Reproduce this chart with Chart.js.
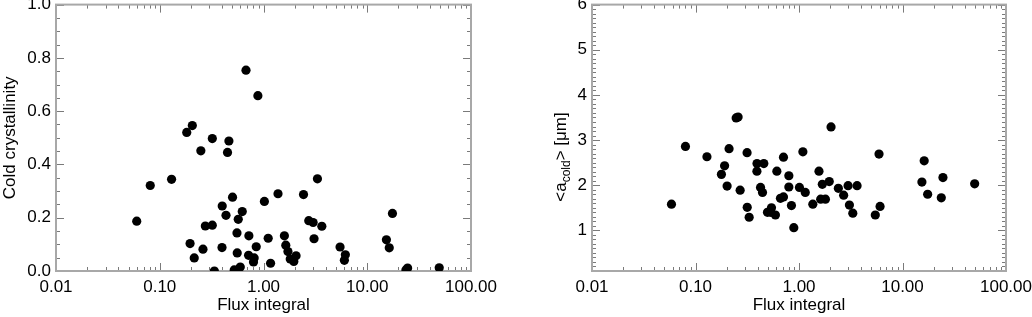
<!DOCTYPE html>
<html lang="en">
<head>
    <script src="https://cdn.jsdelivr.net/npm/chart.js@4.4.0/dist/chart.umd.min.js"></script>
    <meta charset="UTF-8">
    <title>Flux integral</title>
    <style>
        body { margin: 0; background: #fff; }
        #wrap { position: relative; width: 1032px; height: 317px; }
        canvas { position: absolute; top: 0; }
    </style>
</head>
<body>
<div id="wrap">
    <canvas id="chartCryst" width="516" height="317" style="left:0"></canvas>
    <canvas id="chartSize" width="516" height="317" style="left:516px"></canvas>
</div>

<script>
    // left panel : cold crystallinity vs flux integral
    let fluxCryst = [0.060, 0.081, 0.130, 0.182, 0.206, 0.249, 0.321, 0.464, 0.450, 0.678, 0.883,
        0.400, 0.503, 0.624, 0.435, 0.571, 0.275, 0.321, 0.196, 0.261, 0.215, 0.398, 0.555, 0.723,
        0.558, 0.851, 0.718, 0.813, 0.801, 0.597, 0.522, 0.336,
        1.02, 1.38, 2.43, 3.31, 2.73, 3.01, 3.65,
        1.11, 1.59, 3.07, 1.64, 1.72, 1.81, 2.06, 1.96, 1.17,
        5.47, 6.15, 6.02, 15.3, 16.3, 17.5, 24.5, 23.6, 49.4];
    let coldCryst = [0.187, 0.321, 0.344, 0.520, 0.546, 0.451, 0.497, 0.488, 0.445, 0.754, 0.658,
        0.244, 0.277, 0.223, 0.209, 0.194, 0.169, 0.172, 0.103, 0.082, 0.049, 0.088, 0.143, 0.132,
        0.068, 0.091, 0.059, 0.049, 0.034, 0.015, 0.004, 0.000,
        0.261, 0.290, 0.287, 0.346, 0.189, 0.182, 0.168,
        0.123, 0.132, 0.121, 0.097, 0.073, 0.045, 0.057, 0.036, 0.029,
        0.090, 0.061, 0.040, 0.117, 0.087, 0.216, 0.011, 0.004, 0.012];

    // right panel : <a_cold> [um] vs flux integral
    let fluxSize = [0.0586, 0.080, 0.129, 0.178, 0.191, 0.211, 0.202, 0.247, 0.258, 0.270, 0.315,
        0.316, 0.330, 0.393, 0.457, 0.392, 0.425, 0.444, 0.496, 0.542, 0.534, 0.592, 0.611, 0.708,
        0.662, 0.708, 0.798, 0.798, 0.845, 0.891,
        1.01, 1.09, 1.15, 1.36, 1.56, 1.68, 1.62, 1.80, 1.96, 2.04, 2.40, 2.70, 2.98, 3.07, 3.31,
        3.64, 5.46, 5.93, 6.07, 15.4, 16.2, 17.5, 23.7, 24.6, 49.8];
    let coldSize = [1.58, 2.86, 2.63, 2.24, 2.43, 2.81, 1.98, 3.49, 3.51, 1.89, 2.72,
        1.51, 1.29, 2.48, 2.48, 2.31, 1.95, 1.84, 1.40, 1.50, 1.40, 1.34, 2.31, 2.62,
        1.71, 1.74, 2.21, 1.96, 1.55, 1.06,
        1.95, 2.74, 1.84, 1.58, 2.31, 2.02, 1.69, 1.69, 2.08, 3.29, 1.93, 1.78, 1.99, 1.56, 1.38,
        1.99, 1.34, 2.69, 1.53, 2.07, 2.54, 1.80, 1.72, 2.17, 2.03];

    // tick labels
    let xTickValues = [0.01, 0.1, 1, 10, 100];
    let xTickLabels = ['0.01', '0.10', '1.00', '10.00', '100.00'];
    let yCrystLabels = ['0.0', '0.2', '0.4', '0.6', '0.8', '1.0'];
    let ySizeLabels = ['1', '2', '3', '4', '5', '6'];

    const police = "'Liberation Sans', Helvetica, Arial, sans-serif";
    Chart.defaults.font.family = police;
    Chart.defaults.font.size = 17;
    Chart.defaults.color = '#000';

    let toPoints = (xs, ys) => xs.map((v, i) => ({x: v, y: ys[i]}));

    let isDecade = v => Math.abs(Math.log10(v) - Math.round(Math.log10(v))) < 1e-9;

    // minor ticks of the log axis : 1..9 x 10^n
    let logTicks = () => {
        let t = [];
        for (let e = -2; e < 2; e++) {
            for (let m = 1; m < 10; m++) t.push(m * Math.pow(10, e));
        }
        t.push(100);
        return t.map(v => ({value: v}));
    };

    // inward ticks on the 4 sides + grey frame
    const cadre = {
        id: 'cadre',
        beforeDatasetsDraw(chart, args, opts) {
            let ctx = chart.ctx, a = chart.chartArea, x = chart.scales.x, y = chart.scales.y;
            ctx.save();
            ctx.strokeStyle = '#7a7a7a';
            ctx.lineWidth = 1;
            ctx.beginPath();
            x.ticks.forEach(t => {
                let px = Math.round(x.getPixelForValue(t.value)) + 0.5;
                let len = isDecade(t.value) ? 8 : 4;
                ctx.moveTo(px, a.bottom); ctx.lineTo(px, a.bottom - len);
                ctx.moveTo(px, a.top); ctx.lineTo(px, a.top + len);
            });
            y.ticks.forEach(t => {
                let py = Math.round(y.getPixelForValue(t.value)) + 0.5;
                let r = t.value / opts.majeur;
                let len = Math.abs(r - Math.round(r)) < 1e-6 ? 8 : 4;
                ctx.moveTo(a.left, py); ctx.lineTo(a.left + len, py);
                ctx.moveTo(a.right, py); ctx.lineTo(a.right - len, py);
            });
            ctx.stroke();
            ctx.strokeStyle = '#a8a8a8';
            ctx.lineWidth = 2;
            ctx.strokeRect(a.left, a.top, a.width, a.height);
            ctx.restore();
        }
    };

    // y title with subscript for the right panel
    const titreIndice = {
        id: 'titreIndice',
        afterDraw(chart, args, opts) {
            if (!opts.actif) return;
            let ctx = chart.ctx;
            ctx.save();
            ctx.translate(opts.x, opts.y);
            ctx.rotate(-Math.PI / 2);
            ctx.fillStyle = '#000';
            ctx.textBaseline = 'alphabetic';
            let f1 = '17px ' + police, f2 = '12px ' + police;
            ctx.font = f1;
            let w1 = ctx.measureText('<a').width;
            let w3 = ctx.measureText('> [\u03bcm]').width;
            ctx.font = f2;
            let w2 = ctx.measureText('cold').width;
            let x0 = -(w1 + w2 + w3) / 2;
            ctx.font = f1;
            ctx.fillText('<a', x0, 5);
            ctx.font = f2;
            ctx.fillText('cold', x0 + w1, 9);
            ctx.font = f1;
            ctx.fillText('> [\u03bcm]', x0 + w1 + w2, 5);
            ctx.restore();
        }
    };

    function buildChart(id, points, yOpts) {
        let content = document.querySelector('#' + id).getContext('2d');
        return new Chart(content, {
            type: 'scatter',
            data: {
                datasets: [{
                    data: points,
                    backgroundColor: '#000',
                    borderWidth: 0,
                    pointRadius: 4.6,
                    clip: 0
                }]
            },
            options: {
                responsive: false,
                animation: false,
                devicePixelRatio: 1,
                layout: {padding: {left: 0, top: 3, right: yOpts.padRight, bottom: 0}},
                plugins: {
                    legend: {display: false},
                    tooltip: {enabled: false},
                    cadre: {majeur: yOpts.majeur},
                    titreIndice: yOpts.indice
                },
                scales: {
                    x: {
                        type: 'logarithmic',
                        min: 0.01,
                        max: 100,
                        grid: {display: false, drawTicks: false},
                        border: {display: false},
                        afterBuildTicks: s => { s.ticks = logTicks(); },
                        afterFit: s => { s.height = 46; s.paddingLeft = 0; s.paddingRight = 0; },
                        ticks: {
                            autoSkip: false,
                            maxRotation: 0,
                            padding: 6,
                            callback: v => {
                                let i = xTickValues.findIndex(d => Math.abs(d - v) / d < 1e-6);
                                return i >= 0 ? xTickLabels[i] : '';
                            }
                        },
                        title: {display: true, text: 'Flux integral', padding: {top: 0, bottom: 1}}
                    },
                    y: {
                        min: yOpts.min,
                        max: yOpts.max,
                        grid: {display: false, drawTicks: false},
                        border: {display: false},
                        afterBuildTicks: s => { s.ticks = yOpts.ticks.map(v => ({value: v})); },
                        afterFit: s => { s.width = yOpts.width; s.paddingTop = 0; s.paddingBottom = 0; },
                        ticks: {
                            autoSkip: false,
                            padding: 5,
                            callback: v => {
                                let r = v / yOpts.majeur;
                                if (Math.abs(r - Math.round(r)) > 1e-6) return '';
                                let i = Math.round(r) - yOpts.premier;
                                return yOpts.labels[i] !== undefined ? yOpts.labels[i] : '';
                            }
                        },
                        title: {display: yOpts.titre !== '', text: yOpts.titre, padding: {top: 0, bottom: 0}}
                    }
                }
            },
            plugins: [cadre, titreIndice]
        });
    }

    let ticksCryst = [];
    for (let i = 0; i <= 20; i++) ticksCryst.push(i * 0.05);
    let ticksSize = [];
    for (let i = 1; i <= 60; i++) ticksSize.push(i / 10);

    buildChart('chartCryst', toPoints(fluxCryst, coldCryst), {
        min: 0, max: 1, majeur: 0.2, premier: 0, labels: yCrystLabels, ticks: ticksCryst,
        width: 56, padRight: 45, titre: 'Cold crystallinity', indice: {actif: false}
    });

    buildChart('chartSize', toPoints(fluxSize, coldSize), {
        min: 0.1, max: 6, majeur: 1, premier: 1, labels: ySizeLabels, ticks: ticksSize,
        width: 76, padRight: 26, titre: '', indice: {actif: true, x: 45, y: 157}
    });
</script>

</body>
</html>
